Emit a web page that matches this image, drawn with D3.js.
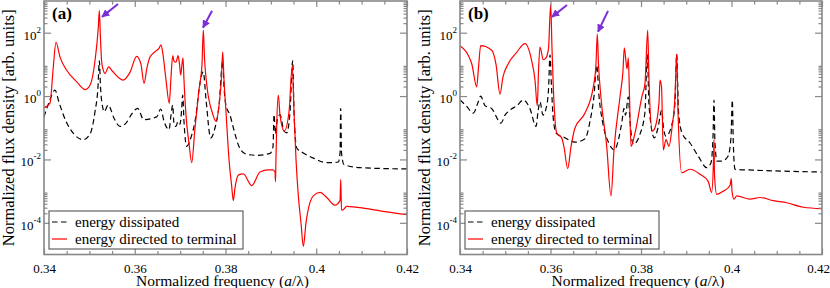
<!DOCTYPE html>
<html><head><meta charset="utf-8">
<script src="https://cdn.jsdelivr.net/npm/d3@7"></script>
<style>
body{margin:0;background:#fff}
svg{display:block}
</style>
</head><body>
<svg id="chart" width="830" height="288"></svg>
<script>
// ---------------- data ----------------
const xMajorTicks = [0.34, 0.36, 0.38, 0.40, 0.42];
const xTickLabels = ["0.34", "0.36", "0.38", "0.4", "0.42"];
const xMinorTicks = [0.345, 0.35, 0.355, 0.365, 0.37, 0.375, 0.385, 0.39, 0.395, 0.405, 0.41, 0.415];
const yMajorTicks = [1e-4, 1e-2, 1e0, 1e2];
const yTickExponents = ["-4", "-2", "0", "2"];
const legendLabels = ["energy dissipated", "energy directed to terminal"];
const panelLabels = ["(a)", "(b)"];
const xTitle = "Normalized frequency";
const yTitle = "Normalized flux density [arb. units]";

// panel (a): energy dissipated  [frequency, flux]
const aDissipated = [
 [0.34000,0.22],[0.34110,0.63],[0.34242,1.55],[0.34331,0.63],[0.34485,0.16],[0.34661,0.063],
 [0.34866,0.042],[0.35014,0.063],[0.35124,0.32],[0.35190,2.0],[0.35219,13],[0.35245,2.0],
 [0.35300,0.4],[0.35322,0.32],[0.35417,0.52],[0.35543,0.2],[0.35675,0.11],[0.35807,0.14],
 [0.35939,0.28],[0.36065,0.41],[0.36197,0.18],[0.36484,0.22],[0.36572,0.39],[0.36645,0.16],
 [0.36755,0.087],[0.36799,0.25],[0.36837,0.52],[0.36865,0.13],[0.36909,0.11],[0.36954,0.16],
 [0.36997,0.13],[0.37030,0.32],[0.37057,1.07],[0.37085,0.16],[0.37145,0.026],[0.37240,0.05],
 [0.37350,0.25],[0.37416,1.6],[0.37511,5.8],[0.37570,0.8],[0.37674,0.048],[0.37769,0.1],
 [0.37857,0.5],[0.37938,12.6],[0.37967,2.0],[0.38011,0.5],[0.38100,0.25],[0.38172,0.1],
 [0.38320,0.022],[0.38467,0.0145],[0.38688,0.0135],[0.38981,0.0155],[0.39047,0.025],
 [0.39069,0.26],[0.39102,0.063],[0.39135,0.16],[0.39201,0.26],[0.39289,0.079],[0.39349,0.069],
 [0.39422,0.32],[0.39481,13],[0.39510,0.32],[0.39569,0.023],[0.39715,0.016],[0.39935,0.011],
 [0.40231,0.0079],[0.40486,0.0083],[0.40524,0.016],[0.40539,0.41],[0.40557,0.016],
 [0.40612,0.0069],[0.40964,0.0055],[0.42000,0.005]
];
// panel (a): energy directed to terminal
const aTerminal = [
 [0.34000,0.42],[0.34132,0.60],[0.34205,8.3],[0.34264,50],[0.34353,17],[0.34500,6.5],
 [0.34721,2.8],[0.34904,1.6],[0.35014,2.2],[0.35124,13],[0.35197,150],[0.35219,510],
 [0.35245,63],[0.35270,12.6],[0.35300,7.1],[0.35344,5.2],[0.35425,8.3],[0.35499,6.3],
 [0.35741,3.2],[0.35895,5.6],[0.36043,18],[0.36138,10],[0.36204,2.5],[0.36270,7.9],
 [0.36336,17],[0.36446,25],[0.36534,32],[0.36579,41],[0.36623,20],[0.36689,3.2],
 [0.36761,0.59],[0.36799,4.0],[0.36837,19],[0.36865,12.6],[0.36909,11.7],[0.36954,19],
 [0.36987,10],[0.37013,4.6],[0.37041,10],[0.37063,16],[0.37085,3.2],[0.37129,0.25],
 [0.37196,0.032],[0.37255,0.0079],[0.37328,0.1],[0.37416,1.6],[0.37482,10],[0.37511,120],
 [0.37537,16],[0.37592,2.0],[0.37703,0.32],[0.37791,0.16],[0.37857,0.5],[0.37912,4.0],
 [0.37938,25],[0.37967,3.2],[0.38011,0.32],[0.38077,0.01],[0.38133,0.0016],[0.38172,0.0005],
 [0.38209,0.00126],[0.38282,0.0032],[0.38392,0.0035],[0.38578,0.0015],[0.38760,0.0040],
 [0.38943,0.0047],[0.39047,0.0047],[0.39091,0.0040],[0.39102,0.0020],[0.39109,0.0063],
 [0.39128,0.11],[0.39164,1.07],[0.39201,0.25],[0.39296,0.079],[0.39400,0.32],[0.39472,9],
 [0.39510,0.32],[0.39554,0.01],[0.39605,0.00071],[0.39664,0.0001],[0.39715,0.000018],
 [0.39774,0.0001],[0.39935,0.00071],[0.40083,0.00091],[0.40231,0.00063],[0.40413,0.00036],
 [0.40524,0.0005],[0.40539,0.0023],[0.40557,0.00025],[0.40575,0.00025],[0.40672,0.00033],
 [0.41112,0.00028],[0.41553,0.00022],[0.42000,0.00018]
];
// panel (b): energy dissipated
const bDissipated = [
 [0.34000,0.75],[0.34133,0.5],[0.34294,0.29],[0.34398,0.63],[0.34457,1.0],[0.34552,0.5],
 [0.34701,0.4],[0.34906,0.14],[0.34994,0.25],[0.35105,0.36],[0.35260,0.5],[0.35399,0.75],
 [0.35547,0.4],[0.35680,0.11],[0.35724,0.32],[0.35768,0.66],[0.35834,0.25],[0.35901,0.4],
 [0.35956,1.6],[0.35989,20],[0.36022,2.0],[0.36055,0.25],[0.36122,0.068],[0.36298,0.05],
 [0.36541,0.035],[0.36762,0.045],[0.36873,0.16],[0.36961,1.0],[0.37021,9.3],[0.37072,1.0],
 [0.37160,0.13],[0.37293,0.032],[0.37410,0.02],[0.37514,0.05],[0.37580,0.16],[0.37624,0.41],
 [0.37657,0.25],[0.37719,0.95],[0.37757,0.16],[0.37830,0.03],[0.37978,0.063],[0.38088,0.32],
 [0.38139,21],[0.38177,0.5],[0.38294,0.048],[0.38376,0.1],[0.38457,0.36],[0.38497,0.1],
 [0.38552,0.054],[0.38685,0.13],[0.38751,0.63],[0.38789,21],[0.38829,0.32],[0.38906,0.068],
 [0.39083,0.033],[0.39266,0.0126],[0.39452,0.0055],[0.39547,0.0079],[0.39591,0.05],
 [0.39613,0.75],[0.39635,0.032],[0.39680,0.0089],[0.39790,0.0089],[0.39923,0.0126],
 [0.39989,0.05],[0.40018,0.75],[0.40040,0.032],[0.40077,0.0049],[0.40482,0.0046],[0.42000,0.004]
];
// panel (b): energy directed to terminal
const bTerminal = [
 [0.34000,39],[0.34259,10.5],[0.34369,1.95],[0.34409,7.9],[0.34457,39],[0.34701,28],
 [0.34796,10],[0.34884,1.15],[0.34950,4.0],[0.35067,10.5],[0.35253,24],[0.35436,45],
 [0.35584,13],[0.35657,3.2],[0.35708,0.49],[0.35735,6.3],[0.35768,35],[0.35841,14],
 [0.35901,16],[0.35956,32],[0.36004,790],[0.36033,32],[0.36062,1.95],[0.36137,0.068],
 [0.36247,0.048],[0.36298,0.025],[0.36380,0.0051],[0.36453,0.025],[0.36541,0.098],
 [0.36762,0.29],[0.36946,1.95],[0.37005,10],[0.37034,91],[0.37061,10],[0.37116,0.87],
 [0.37242,0.026],[0.37337,0.00071],[0.37403,0.02],[0.37536,0.95],[0.37602,6.3],[0.37631,33],
 [0.37691,7.2],[0.37719,16],[0.37746,1.0],[0.37779,0.026],[0.37867,0.068],[0.38022,1.0],
 [0.38088,2.5],[0.38148,120],[0.38177,3.2],[0.38250,0.078],[0.38309,0.1],[0.38398,0.63],
 [0.38420,3.2],[0.38453,2.0],[0.38493,0.02],[0.38552,0.042],[0.38619,0.026],[0.38685,0.1],
 [0.38751,1.0],[0.38789,21],[0.38818,0.32],[0.38899,0.0038],[0.39083,0.0049],[0.39304,0.0034],
 [0.39487,0.002],[0.39562,0.00091],[0.39602,0.01],[0.39613,0.042],[0.39624,0.0032],
 [0.39673,0.00079],[0.39819,0.001],[0.39967,0.0015],[0.39995,0.0025],[0.40011,0.001],
 [0.40055,0.00056],[0.40115,0.00071],[0.40409,0.00056],[0.40630,0.00063],[0.40924,0.0005],
 [0.41220,0.00043],[0.41587,0.00031],[0.42000,0.00028]
];
// arrows: [tailFreq, tailFlux, tipFreq, tipFlux]
const aArrows = [[0.35631,800,0.35278,316],[0.37703,490,0.37504,144]];
const bArrows = [[0.36365,750,0.36033,316],[0.37271,490,0.37050,107]];

// ---------------- drawing ----------------
const FONT = '"Liberation Serif"';
const svg = d3.select("#chart");
const frameColor = "#888";
const arrowColor = "#7b2fd6";
const plotTop = 1, plotBottom = 254.5;

const defs = svg.append("defs");
defs.append("marker")
  .attr("id","ah").attr("viewBox","0 0 10 10").attr("refX",9).attr("refY",5)
  .attr("markerWidth",4).attr("markerHeight",4).attr("orient","auto")
  .attr("markerUnits","strokeWidth")
  .append("path").attr("d","M0,0L10,5L0,10z").attr("fill",arrowColor);

const panels = [
  {left:44, right:407, label:panelLabels[0], diss:aDissipated, term:aTerminal, arrows:aArrows},
  {left:460, right:822, label:panelLabels[1], diss:bDissipated, term:bTerminal, arrows:bArrows}
];

function txt(sel) { return sel.style("font-family", FONT).attr("fill", "#000"); }

panels.forEach((p, i) => {
  const x = d3.scaleLinear().domain([0.34, 0.42]).range([p.left, p.right]);
  const y = d3.scaleLog().domain([1e-5, 1e3]).range([plotBottom, plotTop]);
  const g = svg.append("g");

  const clipId = "clip" + i;
  defs.append("clipPath").attr("id", clipId)
    .append("rect").attr("x", p.left).attr("y", plotTop).attr("width", p.right - p.left).attr("height", plotBottom - plotTop);

  const line = d3.line().x(d => x(d[0])).y(d => y(d[1])).curve(d3.curveMonotoneX);
  const lg = g.append("g").attr("clip-path", `url(#${clipId})`);
  lg.append("path").datum(p.diss).attr("d", line).attr("fill","none")
    .attr("stroke","#000").attr("stroke-width",1.2).attr("stroke-dasharray","5.5,3.5");
  lg.append("path").datum(p.term).attr("d", line).attr("fill","none")
    .attr("stroke","#ff0000").attr("stroke-width",1.2);

  const styleAxis = sel => {
    sel.select(".domain").remove();
    sel.selectAll(".tick line").attr("stroke", frameColor).attr("stroke-width", 1.2);
  };
  g.append("g").attr("transform",`translate(0,${plotBottom})`)
    .call(d3.axisBottom(x).tickValues(xMinorTicks).tickSize(-3.5).tickFormat(""))
    .call(styleAxis);
  g.append("g").attr("transform",`translate(0,${plotTop})`)
    .call(d3.axisTop(x).tickValues(xMinorTicks).tickSize(-3.5).tickFormat(""))
    .call(styleAxis);
  g.append("g").attr("transform",`translate(0,${plotTop})`)
    .call(d3.axisTop(x).tickValues(xMajorTicks).tickSize(-6).tickFormat(""))
    .call(styleAxis);
  const xb = g.append("g").attr("transform",`translate(0,${plotBottom})`)
    .call(d3.axisBottom(x).tickValues(xMajorTicks).tickSize(-6)
      .tickFormat((d, k) => xTickLabels[k]))
    .call(styleAxis);
  xb.attr("font-family", null).attr("font-size", null);
  xb.selectAll(".tick text").call(txt).attr("font-size", 13).attr("dy", 0).attr("y", 18)
    .attr("x", d => {
      const px = x(d);
      return px + 12 > 830 ? 830 - 12 - px : 0;
    });

  const yMinor = [];
  yMajorTicks.forEach(m => { for (let k = 2; k <= 9; k++) yMinor.push(m * k); });
  [[d3.axisLeft, p.left], [d3.axisRight, p.right]].forEach(([ax, px]) => {
    g.append("g").attr("transform",`translate(${px},0)`)
      .call(ax(y).tickValues(yMinor).tickSize(-3.5).tickFormat("")).call(styleAxis);
    g.append("g").attr("transform",`translate(${px},0)`)
      .call(ax(y).tickValues(yMajorTicks).tickSize(-7).tickFormat("")).call(styleAxis);
  });

  yMajorTicks.forEach((m, k) => {
    const t = g.append("text").call(txt).attr("x", p.left - 3).attr("y", y(m) + 7)
      .attr("text-anchor","end").attr("font-size", 13);
    t.append("tspan").text("10");
    t.append("tspan").attr("dy", -7).attr("font-size", 9).text(yTickExponents[k]);
  });

  g.append("rect").attr("x", p.left).attr("y", plotTop).attr("width", p.right - p.left)
    .attr("height", plotBottom - plotTop).attr("fill","none").attr("stroke", frameColor).attr("stroke-width", 1.6);

  const xt = g.append("text").call(txt).attr("x", (p.left + p.right) / 2 - 3).attr("y", 285.5)
    .attr("text-anchor","middle").attr("font-size", 15.5);
  xt.append("tspan").text(xTitle + " (");
  xt.append("tspan").attr("font-style","italic").text("a");
  xt.append("tspan").text("/λ)");
  g.append("text").call(txt).attr("transform",`translate(${p.left - 30},${(plotTop + plotBottom) / 2}) rotate(-90)`)
    .attr("text-anchor","middle").attr("font-size", 16.5).text(yTitle);

  g.append("text").call(txt).attr("x", p.left + 8).attr("y", 19).attr("font-size", 17)
    .attr("font-weight","bold").text(p.label);

  p.arrows.forEach(a => {
    g.append("line").attr("x1", x(a[0])).attr("y1", y(a[1])).attr("x2", x(a[2])).attr("y2", y(a[3]))
      .attr("stroke", arrowColor).attr("stroke-width", 2).attr("marker-end","url(#ah)");
  });

  const lx = p.left + 5, ly = 211;
  g.append("rect").attr("x", lx).attr("y", ly).attr("width", 194).attr("height", 38)
    .attr("fill","#fff").attr("stroke","#444").attr("stroke-width", 1);
  const rows = [{dash:"5.5,3.5", color:"#000"}, {dash:null, color:"#ff0000"}];
  rows.forEach((r, k) => {
    const yy = ly + 11 + k * 17;
    const ln = g.append("line").attr("x1", lx + 3).attr("x2", lx + 18).attr("y1", yy).attr("y2", yy)
      .attr("stroke", r.color).attr("stroke-width", 1.2);
    if (r.dash) ln.attr("stroke-dasharray", r.dash);
    g.append("text").call(txt).attr("x", lx + 26).attr("y", yy + 5).attr("font-size", 15).text(legendLabels[k]);
  });
});
</script>
</body></html>
